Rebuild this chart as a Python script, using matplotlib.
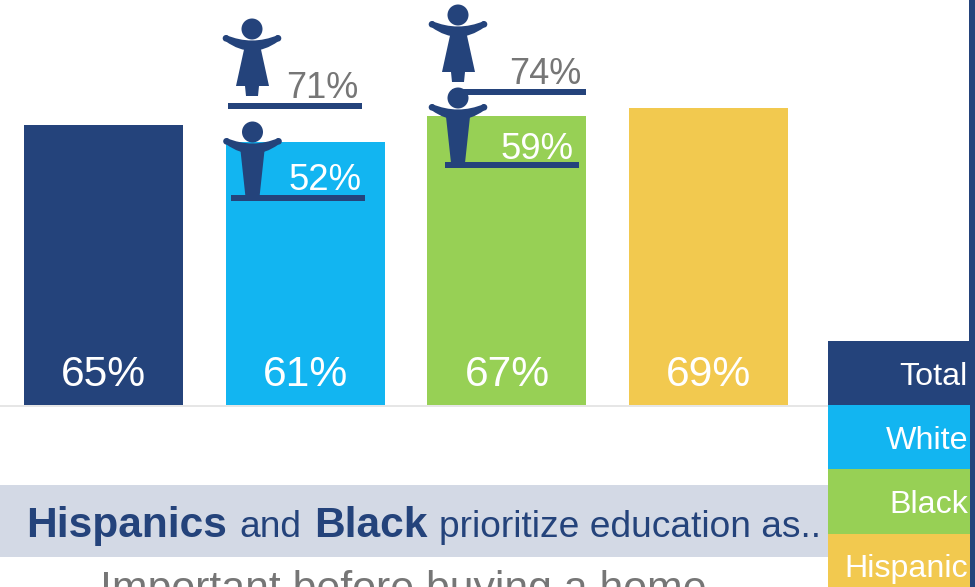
import matplotlib
matplotlib.use("Agg")
import matplotlib.pyplot as plt
from matplotlib.patches import Circle, Polygon, PathPatch, Rectangle
from matplotlib.path import Path

plt.rcParams["font.family"] = ["Liberation Sans", "DejaVu Sans"]

# Survey values
groups = ["Total", "White", "Black", "Hispanic"]
overall = [65, 61, 67, 69]
female_labels = ["71%", "74%"]
male_labels = ["52%", "59%"]

NAVY = "#24437B"
BLUE = "#12B5F1"
GREEN = "#97D055"
YELLOW = "#F2C94F"
GREY = "#767676"
colors = [NAVY, BLUE, GREEN, YELLOW]

W, H = 975, 587
BASE_Y = 405
PX_PER_PCT = 4.31
BAR_STEP = 201.67
BAR_W = 159
FIRST_BAR = 103.5

fig = plt.figure(figsize=(W / 100, H / 100), dpi=100, facecolor="white")

# Bars sit on their own value axis whose zero is the baseline
bar_ax = fig.add_axes([0, 1 - BASE_Y / H, 1, BASE_Y / H])
bar_ax.set_xlim(-FIRST_BAR / BAR_STEP, (W - FIRST_BAR) / BAR_STEP)
bar_ax.set_ylim(0, BASE_Y / PX_PER_PCT)
bar_ax.axis("off")
bar_ax.bar(range(len(overall)), overall, width=BAR_W / BAR_STEP, color=colors)
for i, v in enumerate(overall):
    bar_ax.annotate(f"{v}%", xy=(i, 0), xytext=(0.2, 14.0), textcoords="offset points",
                    ha="center", va="baseline", color="white", fontsize=30.7)

# Overlay in pixel units for pictograms, legend and captions
ax = fig.add_axes([0, 0, 1, 1], facecolor="none")
ax.set_xlim(0, W)
ax.set_ylim(H, 0)
ax.axis("off")


def arms(cx, cy):
    # Crescent that thickens towards the shoulders, with rounded hands
    verts = [(cx - 26, cy + 6), (cx, cy + 17), (cx + 26, cy + 6),
             (cx + 26, cy + 12.5), (cx, cy + 31), (cx - 26, cy + 12.5), (cx - 26, cy + 6)]
    codes = [Path.MOVETO, Path.CURVE3, Path.CURVE3, Path.LINETO,
             Path.CURVE3, Path.CURVE3, Path.CLOSEPOLY]
    ax.add_patch(PathPatch(Path(verts, codes), fc=NAVY, ec="none", zorder=6))
    for side in (-1, 1):
        ax.add_patch(Circle((cx + side * 26, cy + 9.3), 3.3, fc=NAVY, ec="none", zorder=6))


def female(cx, cy):
    ax.add_patch(Circle((cx, cy), 10.5, fc=NAVY, ec="none", zorder=6))
    arms(cx, cy)
    ax.add_patch(Polygon([(cx - 7, cy + 16), (cx + 8, cy + 16), (cx + 17, cy + 57),
                          (cx + 7, cy + 57), (cx + 6, cy + 67), (cx - 6, cy + 67),
                          (cx - 7, cy + 57), (cx - 16, cy + 57)],
                         fc=NAVY, ec="none", zorder=6))


def male(cx, cy):
    ax.add_patch(Circle((cx, cy), 10.5, fc=NAVY, ec="none", zorder=6))
    arms(cx, cy)
    ax.add_patch(Polygon([(cx - 12.5, cy + 14), (cx + 12.5, cy + 14),
                          (cx + 7, cy + 65), (cx - 7, cy + 65)],
                         fc=NAVY, ec="none", zorder=6))


def level(x0, x1, y):
    ax.add_patch(Rectangle((x0, y - 3), x1 - x0, 6, fc=NAVY, ec="none", zorder=5))


# White group
female(252, 29)
level(228, 362, 106)
ax.text(358.5, 98, female_labels[0], color=GREY, fontsize=26, ha="right", va="baseline")
male(252.5, 132)
level(231, 365, 198)
ax.text(361.5, 189.5, male_labels[0], color="white", fontsize=26.3, ha="right", va="baseline")

# Black group
female(458, 15)
level(452, 586, 92)
ax.text(581.5, 84, female_labels[1], color=GREY, fontsize=26, ha="right", va="baseline")
male(458, 98)
level(445, 579, 165)
ax.text(573.5, 159, male_labels[1], color="white", fontsize=26.3, ha="right", va="baseline")

# Baseline rule
ax.add_patch(Rectangle((0, 405), 828, 2, fc="#E6E6E6", ec="none", zorder=1))

# Legend column and right-hand stripe
ax.add_patch(Rectangle((970, 0), 5, H, fc=NAVY, ec="none", zorder=4))
ax.add_patch(Rectangle((968.5, 0), 2, 341, fc=NAVY, ec="none", zorder=4))
tops = [341, 405, 469, 534]
bottoms = [405, 469, 534, 587]
baselines = [385, 449, 513, 577]
for name, c, t, b, base in zip(groups, colors, tops, bottoms, baselines):
    ax.add_patch(Rectangle((828, t), 142, b - t, fc=c, ec="none", zorder=3))
    ax.text(968, base, name, color="white", fontsize=23.2, ha="right", va="baseline", zorder=5)

# Banner
ax.add_patch(Rectangle((0, 485), 828, 72, fc="#D3D9E5", ec="none", zorder=2))
banner = [("Hispanics", 26, "bold", 30.6), ("and", 239, "normal", 26.7),
          ("Black", 314, "bold", 30.6), ("prioritize education as..", 439, "normal", 26.7)]
for txt, x, weight, size in banner:
    ax.text(x, 537, txt, color=NAVY, fontsize=size, fontweight=weight, ha="left",
            va="baseline", zorder=5)

ax.text(403, 601, "Important before buying a home", color=GREY, fontsize=30.8,
        ha="center", va="baseline", zorder=5)

fig.savefig("out.png", dpi=100)
